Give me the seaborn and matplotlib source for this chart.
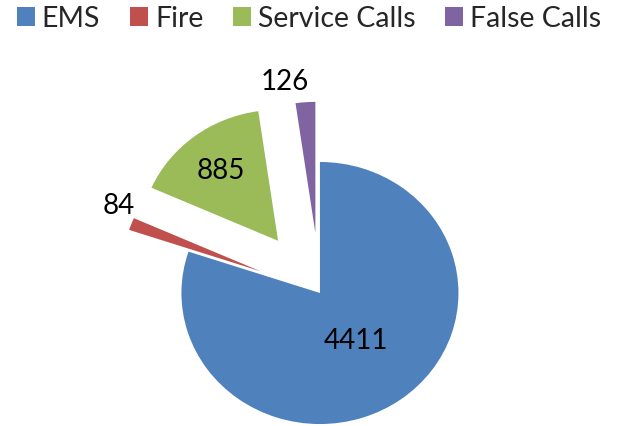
import numpy as np
import matplotlib
matplotlib.use("Agg")
import matplotlib.pyplot as plt
from matplotlib.patches import Patch
import seaborn as sns

# data
categories = ["EMS", "Fire", "Service Calls", "False Calls"]
values = [4411, 84, 885, 126]
colors = ["#4F81BD", "#C0504D", "#9BBB59", "#8064A2"]
explode = [0.0, 0.46, 0.5, 0.46]
# value label placement relative to each wedge's own centre
label_dist = [0.44, 1.14, 0.68, 1.18]
label_turn = [0, -5, 0, 6.5]

sns.set_theme(style="white")
plt.rcParams["font.family"] = ["Lato", "DejaVu Sans"]

fig = plt.figure(figsize=(6.18, 4.27), dpi=100)
ax = fig.add_axes([0, 0, 1, 1])

wedges, _ = ax.pie(values, colors=sns.color_palette(colors), explode=explode,
                   startangle=90, counterclock=False,
                   wedgeprops=dict(linewidth=0))

for w, v, d, t in zip(wedges, values, label_dist, label_turn):
    mid = np.deg2rad((w.theta1 + w.theta2) / 2 + t)
    cx, cy = w.center
    ax.text(cx + d * np.cos(mid), cy + d * np.sin(mid), str(v),
            ha="center", va="center", fontsize=20, color="black")

# Excel stretched the pie a little horizontally
ax.set_aspect("auto")
ax.set_xlim(-2.31, 2.152)
ax.set_ylim(-1.015, 2.244)
ax.axis("off")

handles = [Patch(facecolor=c, edgecolor="none") for c in colors]
fig.legend(handles, categories, loc="upper left", bbox_to_anchor=(0.0, 1.025),
           ncol=4, frameon=False, fontsize=20.5, handlelength=0.62,
           handleheight=0.62, handletextpad=0.25, columnspacing=1.05,
           borderaxespad=0.2)

fig.savefig("out.png", dpi=100)
